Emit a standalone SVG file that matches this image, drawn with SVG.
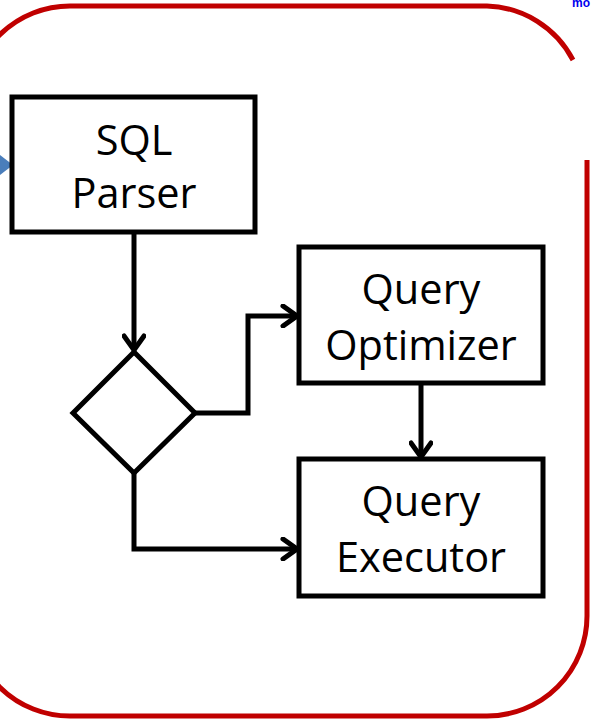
<svg xmlns="http://www.w3.org/2000/svg" width="593" height="721" viewBox="0 0 593 721">
<style>
.box{fill:#fff;stroke:#000;stroke-width:5}
.lbl{font-family:"Open Sans","Liberation Sans",sans-serif;font-size:41.5px;fill:#000;text-anchor:middle}
.con{fill:none;stroke:#000;stroke-width:5}
</style>
<defs>
<marker id="arr" markerUnits="userSpaceOnUse" viewBox="0 0 20 24" refX="17" refY="12" markerWidth="20" markerHeight="24" orient="auto">
<path d="M3,2 L17,12 L3,22" fill="none" stroke="#000" stroke-width="5" stroke-linecap="round" stroke-linejoin="miter"/>
</marker>
</defs>
<rect width="593" height="721" fill="#fff"/>
<path id="frame" d="M573,60 A100,100 0 0 0 487,6 L70,6 A100,100 0 0 0 -30,106 L-30,616 A100,100 0 0 0 70,716 L487,716 A100,100 0 0 0 587,616 L587,160" fill="none" stroke="#c00000" stroke-width="5"/>
<text x="572" y="7" font-family="Liberation Sans,sans-serif" font-size="12" font-weight="bold" fill="#0000ee">mo</text>
<polygon points="0,155 13,165 0,175" fill="#4a7ebb"/>
<g id="connectors">
<line class="con" x1="134" y1="232" x2="134" y2="350" marker-end="url(#arr)"/>
<polyline class="con" points="195,413 248,413 248,316 297,316" marker-end="url(#arr)"/>
<polyline class="con" points="134,473 134,549 297,549" marker-end="url(#arr)"/>
<line class="con" x1="421" y1="383" x2="421" y2="457" marker-end="url(#arr)"/>
</g>
<g id="parser">
<rect class="box" x="12" y="97" width="243" height="135"/>
<text class="lbl" x="134" y="155">SQL</text>
<text class="lbl" x="134" y="208">Parser</text>
</g>
<g id="decision">
<polygon class="box" points="134,352 195,413 134,473 73,413"/>
</g>
<g id="optimizer">
<rect class="box" x="299" y="247" width="244" height="136"/>
<text class="lbl" x="421" y="304">Query</text>
<text class="lbl" x="421" y="360">Optimizer</text>
</g>
<g id="executor">
<rect class="box" x="299" y="459" width="244" height="137"/>
<text class="lbl" x="421" y="516">Query</text>
<text class="lbl" x="421" y="572">Executor</text>
</g>
</svg>
